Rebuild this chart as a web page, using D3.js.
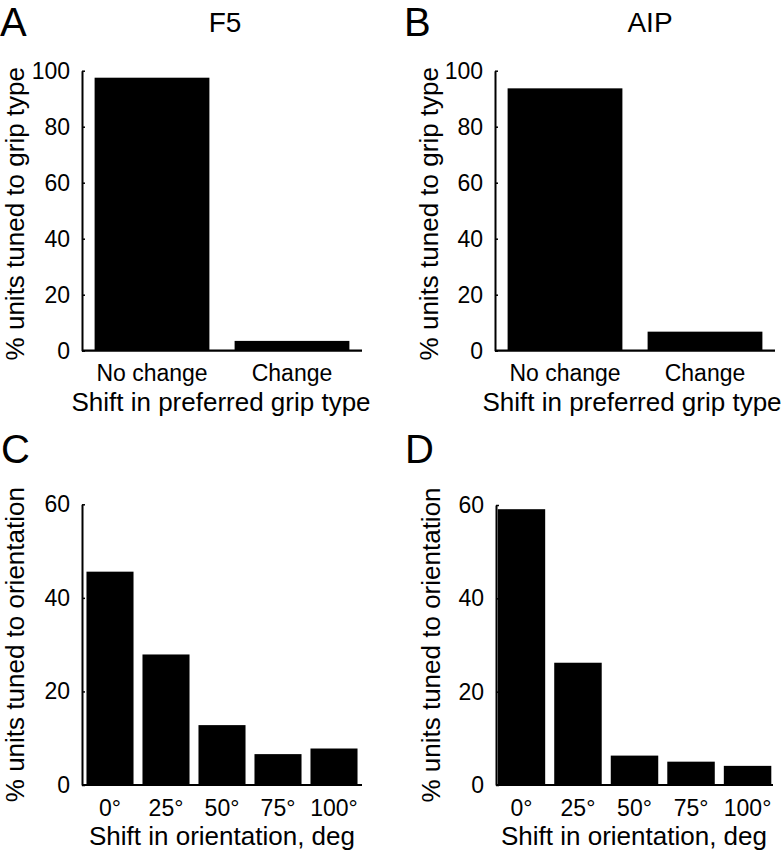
<!DOCTYPE html>
<html>
<head>
<meta charset="utf-8">
<script src="https://cdn.jsdelivr.net/npm/d3@7"></script>
<style>
  html, body { margin: 0; padding: 0; background: #fff; }
  svg { display: block; }
  text { font-family: "Liberation Sans", Arial, Helvetica, sans-serif; fill: #000; }
</style>
</head>
<body>
<svg id="chart" width="783" height="853"></svg>
<script>
// ---- data ----
const gripCategories = ["No change", "Change"];
const f5GripValues = [97.5, 3.5];
const aipGripValues = [93.7, 6.8];
const gripYTicks = [0, 20, 40, 60, 80, 100];

const orientCategories = ["0°", "25°", "50°", "75°", "100°"];
const f5OrientValues = [45.6, 27.9, 12.8, 6.6, 7.8];
const aipOrientValues = [59.1, 26.2, 6.3, 5.0, 4.1];
const orientYTicks = [0, 20, 40, 60];

const panelLetters = ["A", "B", "C", "D"];
const panelTitles = ["F5", "AIP"];
const gripYLabel = "% units tuned to grip type";
const gripXLabel = "Shift in preferred grip type";
const orientYLabel = "% units tuned to orientation";
const orientXLabel = "Shift in orientation, deg";

// ---- layout ----
const svg = d3.select("#chart");

const panels = [
  { letter: panelLetters[0], title: panelTitles[0], cats: gripCategories, vals: f5GripValues, yMax: 100, ticks: gripYTicks,
    x0: 82, x1: 362, yTop: 70.7, yBot: 350.7, pi: 0.18, po: 0.09,
    ylab: gripYLabel, xlab: gripXLabel, ylabX: 24, xlabX: 221, xtickY: 381, xlabY: 411,
    letterX: 0, letterY: 36, titleX: 225, titleY: 32 },
  { letter: panelLetters[1], title: panelTitles[1], cats: gripCategories, vals: aipGripValues, yMax: 100, ticks: gripYTicks,
    x0: 495, x1: 775, yTop: 70.7, yBot: 350.7, pi: 0.18, po: 0.09,
    ylab: gripYLabel, xlab: gripXLabel, ylabX: 438, xlabX: 632, xtickY: 381, xlabY: 411,
    letterX: 404, letterY: 36, titleX: 650, titleY: 32 },
  { letter: panelLetters[2], title: null, cats: orientCategories, vals: f5OrientValues, yMax: 60, ticks: orientYTicks,
    x0: 82, x1: 362, yTop: 504.3, yBot: 785, pi: 0.16, po: 0.08,
    ylab: orientYLabel, xlab: orientXLabel, ylabX: 24, xlabX: 222, xtickY: 816, xlabY: 845,
    letterX: 1, letterY: 463, titleX: 0, titleY: 0 },
  { letter: panelLetters[3], title: null, cats: orientCategories, vals: aipOrientValues, yMax: 60, ticks: orientYTicks,
    x0: 496, x1: 773, yTop: 505, yBot: 785, pi: 0.16, po: 0.03,
    ylab: orientYLabel, xlab: orientXLabel, ylabX: 440, xlabX: 634, xtickY: 816, xlabY: 845,
    letterX: 405, letterY: 463, titleX: 0, titleY: 0 }
];

panels.forEach(p => {
  const g = svg.append("g");
  const x = d3.scaleBand().domain(p.cats).range([p.x0, p.x1]).paddingInner(p.pi).paddingOuter(p.po);
  const y = d3.scaleLinear().domain([0, p.yMax]).range([p.yBot, p.yTop]);

  // bars
  g.selectAll("rect.bar").data(p.vals).join("rect")
    .attr("class", "bar")
    .attr("x", (d, i) => x(p.cats[i]))
    .attr("width", x.bandwidth())
    .attr("y", d => y(d))
    .attr("height", d => y(0) - y(d))
    .attr("fill", "#000");

  // y axis (inward ticks)
  const yAxis = d3.axisLeft(y).tickValues(p.ticks).tickSize(-3).tickPadding(12).tickSizeOuter(0);
  const ya = g.append("g").attr("transform", `translate(${p.x0},0)`).call(yAxis);
  ya.select(".domain").attr("stroke", "#000").attr("stroke-width", 2);
  ya.selectAll(".tick line").attr("stroke", "#000").attr("stroke-width", 1.5);
  ya.selectAll(".tick text").attr("font-size", 23).attr("font-family", "Liberation Sans, Arial, sans-serif").attr("fill", "#000");

  // x axis
  const xAxis = d3.axisBottom(x).tickSize(0).tickPadding(0).tickSizeOuter(0);
  const xa = g.append("g").attr("transform", `translate(0,${p.yBot})`).call(xAxis);
  xa.select(".domain").attr("stroke", "#000").attr("stroke-width", 2.2)
    .attr("d", `M${p.x0},0H${p.x1}`);
  xa.selectAll(".tick text")
    .attr("y", p.xtickY - p.yBot).attr("dy", 0)
    .attr("font-size", 23).attr("font-family", "Liberation Sans, Arial, sans-serif").attr("fill", "#000");

  // axis titles
  g.append("text")
    .attr("transform", `translate(${p.ylabX},${(p.yBot + p.yTop) / 2 + (p.yMax === 100 ? 3 : 0)}) rotate(-90)`)
    .attr("text-anchor", "middle").attr("font-size", 26)
    .text(p.ylab);
  g.append("text")
    .attr("x", p.xlabX).attr("y", p.xlabY)
    .attr("text-anchor", "middle").attr("font-size", 26)
    .text(p.xlab);

  // panel letter
  g.append("text").attr("x", p.letterX).attr("y", p.letterY)
    .attr("font-size", 40).text(p.letter);
  if (p.title) {
    g.append("text").attr("x", p.titleX).attr("y", p.titleY)
      .attr("text-anchor", "middle").attr("font-size", 28).text(p.title);
  }
});
</script>
</body>
</html>
